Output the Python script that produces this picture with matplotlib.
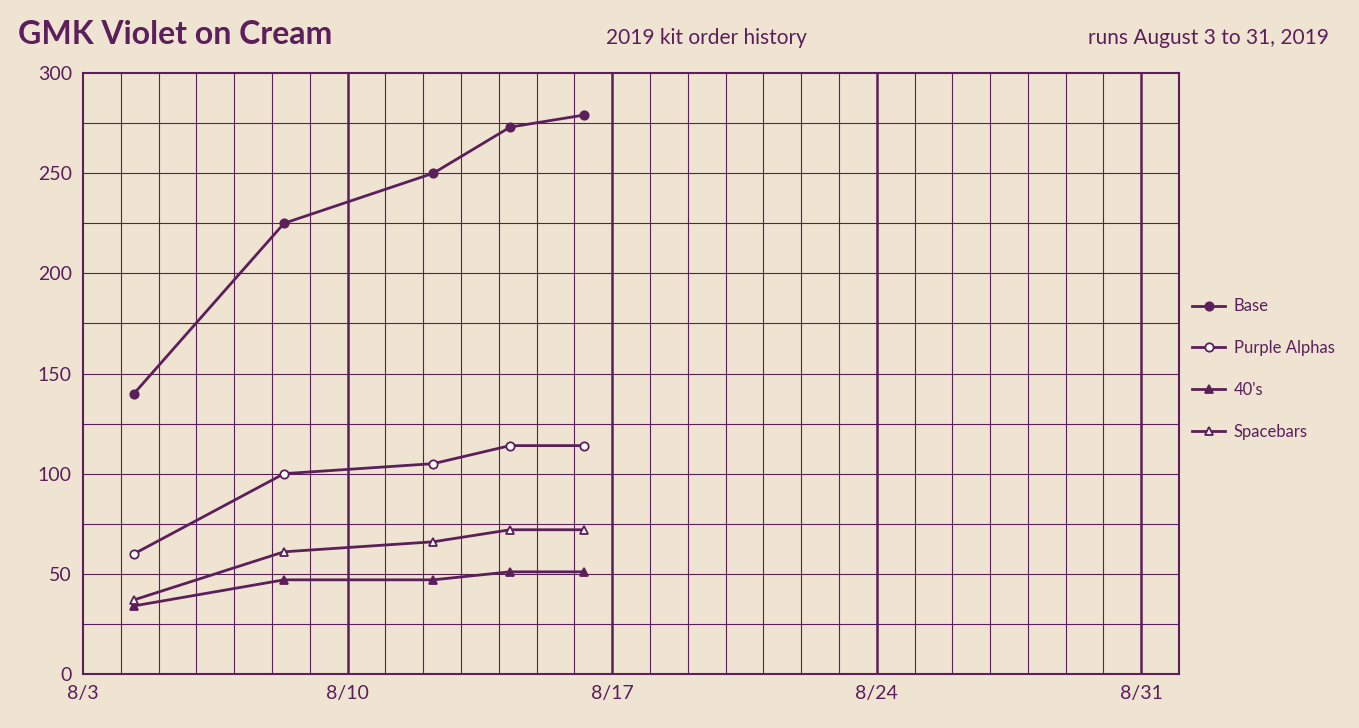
import matplotlib
matplotlib.use("Agg")
import matplotlib.pyplot as plt

# days after Aug 3
days = [1.35, 5.32, 9.27, 11.3, 13.25]
base = [140, 225, 250, 273, 279]
purple_alphas = [60, 100, 105, 114, 114]
forties = [34, 47, 47, 51, 51]
spacebars = [37, 61, 66, 72, 72]

tick_days = [0, 7, 14, 21, 28]
tick_labels = ["8/3", "8/10", "8/17", "8/24", "8/31"]

BG = "#efe3d2"
FG = "#5b1f5b"

plt.rcParams["font.family"] = ["Lato", "DejaVu Sans"]
fig = plt.figure(figsize=(13.59, 7.28), dpi=100, facecolor=BG)
ax = fig.add_axes([0.0611, 0.0742, 0.8065, 0.8255], facecolor=BG)

ax.set_xlim(0, 29)
ax.set_ylim(0, 300)

for d in range(1, 29):
    thick = d % 7 == 0
    ax.axvline(d, color=FG, lw=1.8 if thick else 0.8, zorder=1)
for y in range(25, 300, 25):
    ax.axhline(y, color=FG, lw=0.8, zorder=1)

series = [
    ("Base", base, "o", FG),
    ("Purple Alphas", purple_alphas, "o", "white"),
    ("40's", forties, "^", FG),
    ("Spacebars", spacebars, "^", "white"),
]
for label, vals, m, fc in series:
    ax.plot(days, vals, color=FG, lw=2, marker=m, markersize=6,
            markerfacecolor=fc, markeredgecolor=FG, markeredgewidth=1.3,
            label=label, zorder=3)

for s in ax.spines.values():
    s.set_color(FG)
    s.set_linewidth(1.5)
ax.set_xticks(tick_days)
ax.set_xticklabels(tick_labels)
ax.set_yticks(range(0, 301, 50))
ax.tick_params(colors=FG, labelsize=14, length=0, pad=8)
for t in ax.get_xticklabels() + ax.get_yticklabels():
    t.set_color(FG)

leg = ax.legend(loc="upper left", bbox_to_anchor=(0.998, 0.65), frameon=False,
                labelspacing=1.55, handlelength=2.0, handletextpad=0.5,
                prop={"family": "Lato", "size": 12})
for t in leg.get_texts():
    t.set_color(FG)

fig.text(0.013, 0.953, "GMK Violet on Cream", fontsize=23, fontweight="bold",
         color=FG, va="center")
fig.text(0.52, 0.948, "2019 kit order history", fontsize=15, color=FG,
         va="center", ha="center")
fig.text(0.978, 0.948, "runs August 3 to 31, 2019", fontsize=15, color=FG,
         va="center", ha="right")

fig.savefig("out.png", dpi=100, facecolor=BG)
